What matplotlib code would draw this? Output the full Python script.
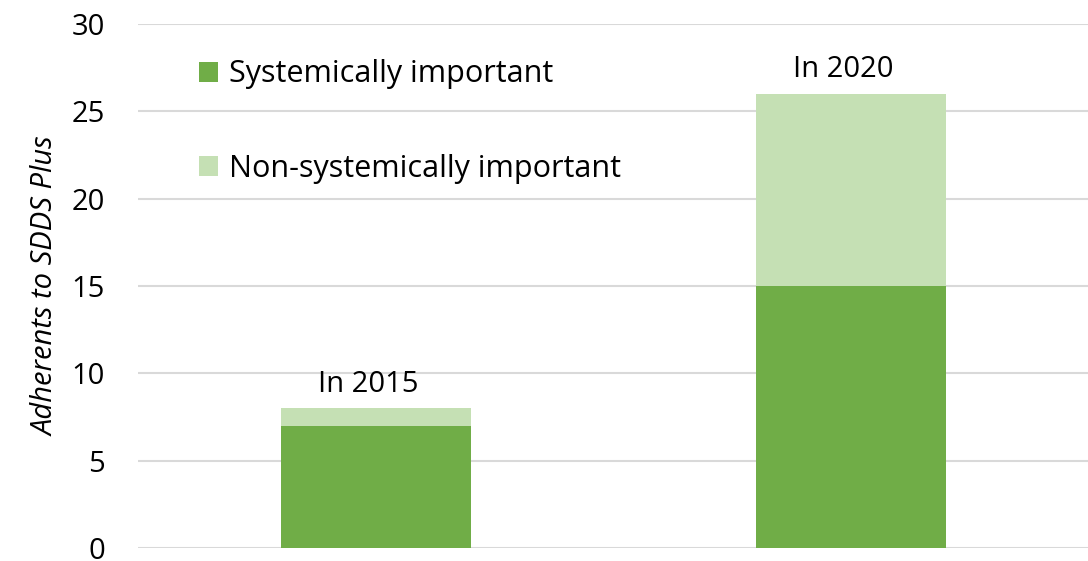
import matplotlib
matplotlib.use('Agg')
import matplotlib.pyplot as plt
import numpy as np

plt.rcParams['font.family'] = ['Open Sans', 'DejaVu Sans']

years = ['In 2015', 'In 2020']
systemic = [7, 15]
non_systemic = [1, 11]
labels = ['Systemically important', 'Non-systemically important']
colors = ['#70AD47', '#C5E0B4']
yticks = [0, 5, 10, 15, 20, 25, 30]

fig = plt.figure(figsize=(10.88, 5.61), dpi=100)
ax = fig.add_axes([0.127, 0.023, 0.873, 0.934])

x = np.arange(len(years))
ax.bar(x, systemic, width=0.4, color=colors[0], label=labels[0], zorder=3)
ax.bar(x, non_systemic, width=0.4, bottom=systemic, color=colors[1], label=labels[1], zorder=3)

# year labels on top of each stack
totals = np.array(systemic) + np.array(non_systemic)
for xi, t, name in zip(x, totals, years):
    ax.annotate(name, (xi - 0.015, t), xytext=(0, 7), textcoords='offset points',
                ha='center', va='bottom', fontsize=21, color='black')

ax.set_xlim(-0.5, 1.5)
ax.set_ylim(0, 30)
ax.set_yticks(yticks)
ax.set_xticks([])
ax.tick_params(axis='y', length=0, labelsize=21, pad=24)
ax.yaxis.grid(True, color='#d9d9d9', linewidth=1.5, zorder=0)
for s in ax.spines.values():
    s.set_visible(False)
ax.set_ylabel('Adherents to SDDS Plus', fontsize=21, style='italic', labelpad=8)

leg = ax.legend(loc='upper left', bbox_to_anchor=(0.035, 0.985), frameon=False,
                fontsize=22, handlelength=0.62, handleheight=0.62, handletextpad=0.35,
                labelspacing=2.1)

fig.savefig('out.png', dpi=100)
